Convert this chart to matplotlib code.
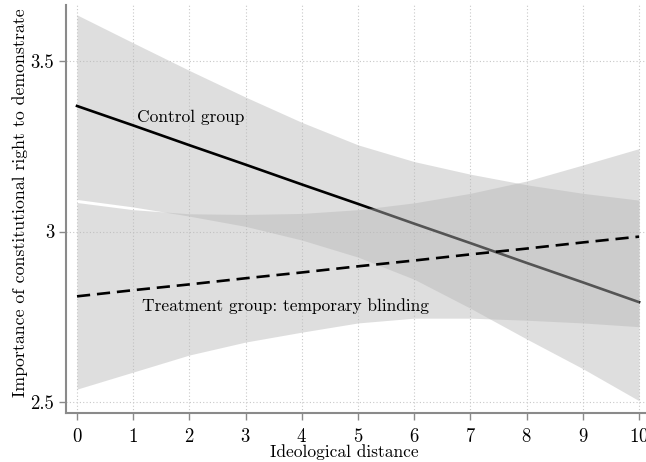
import matplotlib.pyplot as plt

plt.rcParams['font.family'] = ['cmr10', 'DejaVu Serif']
plt.rcParams['mathtext.fontset'] = 'cm'
plt.rcParams['axes.formatter.use_mathtext'] = True

# ideological distance
dist = [0, 1, 2, 3, 4, 5, 6, 7, 8, 9, 10]

# control group: fitted line and 95% band
ctrl_fit = [3.368, 3.311, 3.253, 3.196, 3.138, 3.081, 3.023, 2.966, 2.908, 2.851, 2.793]
ctrl_hi = [3.635, 3.553, 3.472, 3.394, 3.320, 3.254, 3.205, 3.168, 3.137, 3.112, 3.092]
ctrl_lo = [3.094, 3.072, 3.045, 3.015, 2.975, 2.925, 2.860, 2.775, 2.685, 2.598, 2.504]

# treatment group (temporary blinding)
treat_fit = [2.810, 2.828, 2.845, 2.863, 2.880, 2.898, 2.915, 2.933, 2.950, 2.968, 2.985]
treat_hi = [3.085, 3.064, 3.052, 3.050, 3.053, 3.064, 3.084, 3.112, 3.148, 3.195, 3.243]
treat_lo = [2.538, 2.588, 2.638, 2.676, 2.705, 2.732, 2.746, 2.746, 2.740, 2.732, 2.721]

fig = plt.figure(figsize=(6.46, 4.62), dpi=100)
ax = fig.add_axes([66 / 646, 49 / 462, 580 / 646, 408 / 462])

band = dict(color='#b8b8b8', alpha=0.46, linewidth=0)
ax.fill_between(dist, ctrl_lo, ctrl_hi, zorder=2, **band)
ax.plot(dist, ctrl_fit, color='black', lw=1.9, zorder=3)
ax.fill_between(dist, treat_lo, treat_hi, zorder=4, **band)
ax.plot(dist, treat_fit, color='black', lw=1.9, ls=(0, (5, 2.6)), zorder=5)

ax.text(1.07, 3.336, 'Control group', fontsize=12.5, va='center', zorder=6)
ax.text(1.16, 2.78, 'Treatment group: temporary blinding', fontsize=12.5,
        va='center', zorder=6)

ax.set_xlim(-0.196, 10.124)
ax.set_ylim(2.468, 3.664)
ax.set_xticks(range(11))
ax.set_yticks([2.5, 3, 3.5])
ax.set_yticklabels(['2.5', '3', '3.5'])

ax.grid(True, ls=(0, (1, 2)), color='#c8c8c8', lw=0.8, zorder=0)
ax.set_axisbelow(True)
for s in ['top', 'right']:
    ax.spines[s].set_visible(False)
for s in ['left', 'bottom']:
    ax.spines[s].set_color('#8a8a8a')
    ax.spines[s].set_linewidth(1.5)
ax.tick_params(colors='#8a8a8a', labelcolor='black', length=5, width=1.0,
               labelsize=13.5, direction='out')
ax.tick_params(axis='x', pad=6)

# label sits low and overlaps the tick numbers, as in the original
ax.set_xlabel('Ideological distance', fontsize=12.5)
ax.xaxis.set_label_coords((344 - 66) / 580, -0.076)
ax.set_ylabel('Importance of constitutional right to demonstrate', fontsize=12.8)
ax.yaxis.set_label_coords(-0.066, 0.515)

fig.savefig('out.png', dpi=100)
